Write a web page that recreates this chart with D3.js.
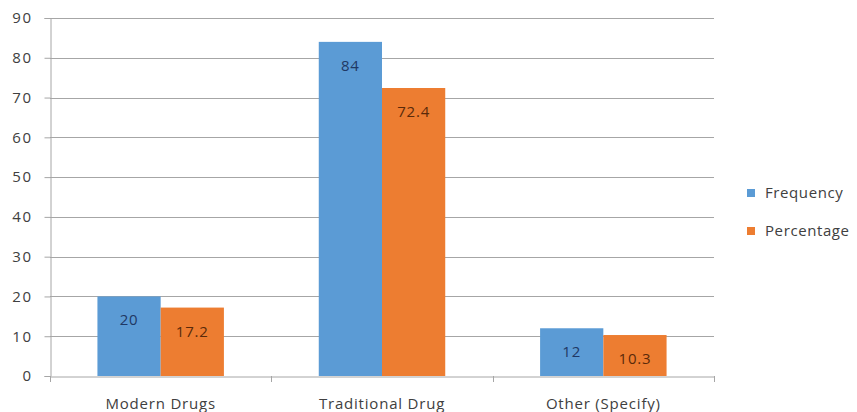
<!DOCTYPE html>
<html><head><meta charset="utf-8">
<script src="https://cdn.jsdelivr.net/npm/d3@7"></script>
<style>body{margin:0;background:#fff}svg{display:block}</style>
</head><body>
<svg id="c" width="857" height="412"></svg>
<script>
const categories = ["Modern Drugs", "Traditional Drug", "Other (Specify)"];
const seriesNames = ["Frequency", "Percentage"];
const frequency = [20, 84, 12];
const percentage = [17.2, 72.4, 10.3];
const yTicks = [0, 10, 20, 30, 40, 50, 60, 70, 80, 90];
const colors = ["#5B9BD5", "#ED7D31"];
const labelColors = ["#1F3864", "#5A2A0A"];

const svg = d3.select("#c");
const font = "'Open Sans', sans-serif";
const x0 = 50, x1 = 714, yTop = 18, yBot = 376;

const x = d3.scaleBand().domain(categories).range([x0, x1]).paddingInner(0).paddingOuter(0);
const xs = d3.scaleBand().domain(seriesNames).range([0, x.bandwidth()]).paddingInner(0).paddingOuter(0.75);
const y = d3.scaleLinear().domain([0, 90]).range([yBot, yTop]);

// gridlines
svg.append("g").selectAll("line").data(yTicks.filter(d => d > 0)).join("line")
  .attr("x1", x0).attr("x2", x1)
  .attr("y1", d => Math.round(y(d)) + 0.5).attr("y2", d => Math.round(y(d)) + 0.5)
  .attr("stroke", "#a6a6a6").attr("stroke-width", 1);

// y axis
const ya = svg.append("g").attr("transform", `translate(${x0 + 0.5},0)`)
  .call(d3.axisLeft(y).tickValues(yTicks).tickSize(6).tickPadding(12));
ya.select(".domain").attr("stroke", "#a6a6a6");
ya.selectAll(".tick line").attr("stroke", "#a6a6a6");
ya.selectAll(".tick text").attr("font-family", font).attr("font-size", 15)
  .attr("letter-spacing", "1.5px").attr("fill", "#404040");

// bars
const data = categories.map((c, i) => ({ c, vals: [frequency[i], percentage[i]] }));
const groups = svg.append("g").selectAll("g").data(data).join("g")
  .attr("transform", d => `translate(${x(d.c)},0)`);
groups.selectAll("rect").data(d => d.vals.map((v, j) => ({ v, j }))).join("rect")
  .attr("x", d => xs(seriesNames[d.j]))
  .attr("width", xs.bandwidth())
  .attr("y", d => y(d.v))
  .attr("height", d => y(0) - y(d.v))
  .attr("fill", d => colors[d.j]);
groups.selectAll("text").data(d => d.vals.map((v, j) => ({ v, j }))).join("text")
  .attr("x", d => xs(seriesNames[d.j]) + xs.bandwidth() / 2)
  .attr("y", d => y(d.v) + 29)
  .attr("text-anchor", "middle")
  .attr("font-family", font).attr("font-size", 15).attr("letter-spacing", "0.8px")
  .attr("fill", d => labelColors[d.j])
  .text(d => d.v);

// x axis
const xa = svg.append("g").attr("transform", `translate(0,${yBot + 0.5})`)
  .call(d3.axisBottom(x).tickSize(0).tickPadding(22));
xa.select(".domain").attr("stroke", "#a6a6a6");
xa.selectAll(".tick text").attr("font-family", font).attr("font-size", 15)
  .attr("letter-spacing", "0.8px").attr("fill", "#404040");
svg.append("g").selectAll("line").data([x0, ...categories.map(c => x(c) + x.bandwidth())]).join("line")
  .attr("x1", d => Math.round(d) + 0.5).attr("x2", d => Math.round(d) + 0.5)
  .attr("y1", yBot).attr("y2", yBot + 6)
  .attr("stroke", "#a6a6a6");

// legend
const lg = svg.append("g").selectAll("g").data(seriesNames).join("g")
  .attr("transform", (d, i) => `translate(747,${193 + i * 38})`);
lg.append("rect").attr("x", 0).attr("y", -4).attr("width", 8).attr("height", 8)
  .attr("fill", (d, i) => colors[i]);
lg.append("text").attr("x", 18).attr("y", 0).attr("dy", "0.35em")
  .attr("font-family", font).attr("font-size", 15).attr("letter-spacing", "0.6px")
  .attr("fill", "#404040")
  .text(d => d);
</script>
</body></html>
